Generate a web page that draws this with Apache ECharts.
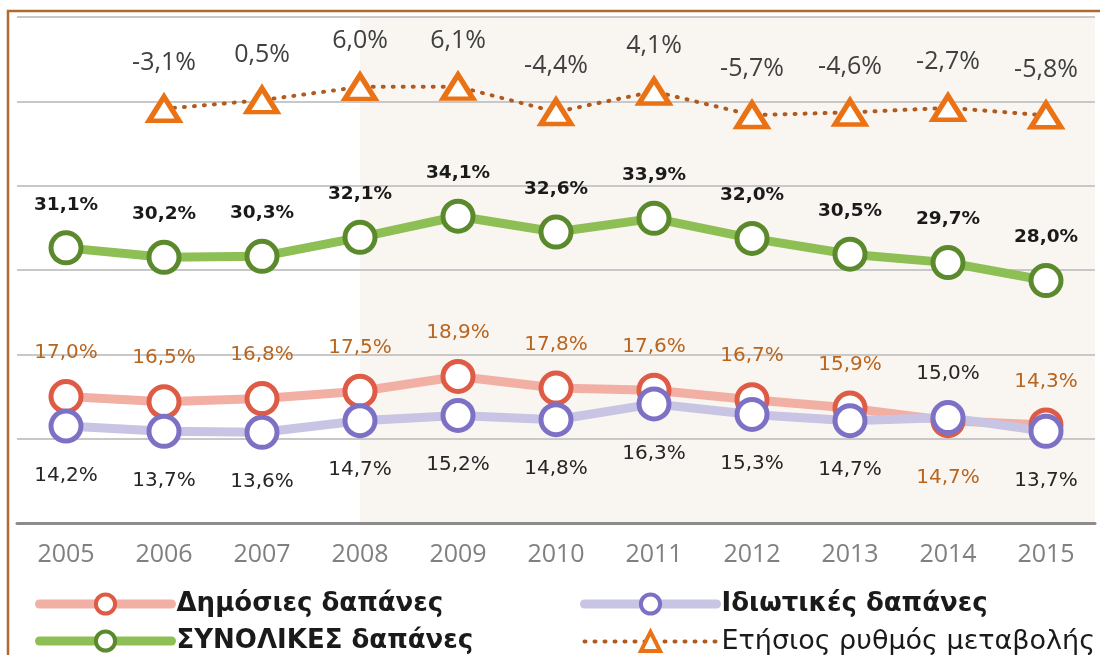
<!DOCTYPE html>
<html>
<head>
<meta charset="utf-8">
<script src="https://cdn.jsdelivr.net/npm/echarts@6/dist/echarts.min.js"></script>
<style>
  html, body { margin: 0; padding: 0; background: #fff; }
  #chart { width: 1100px; height: 655px; }
</style>
</head>
<body>
<div id="chart"></div>
<script>
// data
const years = ['2005', '2006', '2007', '2008', '2009', '2010', '2011', '2012', '2013', '2014', '2015']
const publicSpend = [17.0, 16.5, 16.8, 17.5, 18.9, 17.8, 17.6, 16.7, 15.9, 14.7, 14.3]
const privateSpend = [14.2, 13.7, 13.6, 14.7, 15.2, 14.8, 16.3, 15.3, 14.7, 15.0, 13.7]
const totalSpend = [31.1, 30.2, 30.3, 32.1, 34.1, 32.6, 33.9, 32.0, 30.5, 29.7, 28.0]
const yearlyChange = [null, -3.1, 0.5, 6.0, 6.1, -4.4, 4.1, -5.7, -4.6, -2.7, -5.8]
const names = ['Δημόσιες δαπάνες', 'Ιδιωτικές δαπάνες', 'ΣΥΝΟΛΙΚΕΣ δαπάνες', 'Ετήσιος ρυθμός μεταβολής']
const shadeFrom = '2008'

const fmt = v => v.toFixed(1).replace('.', ',') + '%'

// public label goes under the point where private is higher (2014), and vice versa
const publicData = publicSpend.map((v, i) => {
  if (v < privateSpend[i]) return { value: v, label: { position: 'bottom', distance: 30 } }
  return v
})
const privateData = privateSpend.map((v, i) => {
  if (v > publicSpend[i]) return { value: v, label: { position: 'top', distance: 16, color: '#262626' } }
  return v
})

const chart = echarts.init(document.getElementById('chart'))

const legendBase = {
  top: 591, height: 100, orient: 'vertical', padding: 0,
  itemWidth: 132, itemHeight: 24, itemGap: 11,
  lineStyle: { width: 9, cap: 'round' },
  itemStyle: { borderWidth: 4 },
  textStyle: { fontFamily: 'DejaVu Sans', fontWeight: 'bold', fontSize: 26, lineHeight: 24,
    color: '#1a1a1a' }
}

const option = {
  animation: false,
  backgroundColor: '#fff',
  grid: { left: 17, right: 5, top: 17, bottom: 132 },
  graphic: [{
    type: 'rect',
    z: -10,
    shape: { x: 8, y: 11, width: 1200, height: 800 },
    style: { fill: 'none', stroke: '#b06a30', lineWidth: 2.5 }
  }],
  xAxis: [{
    type: 'category',
    data: years,
    boundaryGap: true,
    z: 3,
    axisLine: { onZero: false, lineStyle: { color: '#8c8c8c', width: 3 } },
    axisTick: { length: 8, lineStyle: { color: '#8c8c8c', width: 2 } },
    axisLabel: { color: '#808080', fontFamily: 'Open Sans', fontSize: 25, margin: 19 }
  }, {
    type: 'value', min: 0, max: years.length, show: false
  }],
  yAxis: [{
    type: 'value', min: 5, max: 53, show: false, splitLine: { show: false }
  }, {
    type: 'value', min: -175, max: 35, interval: 35, z: 1,
    axisLabel: { show: false }, axisLine: { show: false }, axisTick: { show: false },
    splitLine: { show: true, lineStyle: { color: '#c8c8c8', width: 2 } }
  }],
  legend: [
    Object.assign({}, legendBase, {
      left: 35,
      data: [{ name: names[0] }, { name: names[2] }]
    }),
    Object.assign({}, legendBase, {
      left: 580,
      data: [
        { name: names[1] },
        { name: names[3], lineStyle: { width: 4, type: [1, 9], cap: 'round' },
          textStyle: { fontFamily: 'DejaVu Sans', fontWeight: 'normal', fontSize: 27, lineHeight: 24, color: '#1a1a1a' } }
      ]
    })
  ],
  series: [
    {
      // shaded background from 2008 on
      type: 'line', xAxisIndex: 1, yAxisIndex: 1, z: 0, data: [],
      markArea: {
        silent: true, z: 0,
        itemStyle: { color: '#f9f5f1' },
        data: [[{ xAxis: years.indexOf(shadeFrom) + 0.5 }, { xAxis: years.length }]]
      }
    },
    {
      name: names[0], type: 'line', data: publicData,
      symbol: 'circle', symbolSize: 30,
      lineStyle: { color: '#f2b0a5', width: 9 },
      itemStyle: { color: '#fff', borderColor: '#de5b45', borderWidth: 5 },
      label: { show: true, position: 'top', distance: 16, formatter: p => fmt(p.value),
        color: '#b8651f', fontFamily: 'DejaVu Sans', fontSize: 20 }
    },
    {
      name: names[1], type: 'line', data: privateData,
      symbol: 'circle', symbolSize: 30,
      lineStyle: { color: '#c7c4e4', width: 9 },
      itemStyle: { color: '#fff', borderColor: '#7d71c6', borderWidth: 5 },
      label: { show: true, position: 'bottom', distance: 22, formatter: p => fmt(p.value),
        color: '#262626', fontFamily: 'DejaVu Sans', fontSize: 20 }
    },
    {
      name: names[2], type: 'line', data: totalSpend,
      symbol: 'circle', symbolSize: 30,
      lineStyle: { color: '#8dbf55', width: 9 },
      itemStyle: { color: '#fff', borderColor: '#5b8a2d', borderWidth: 5 },
      label: { show: true, position: 'top', distance: 16, formatter: p => fmt(p.value),
        color: '#1a1a1a', fontFamily: 'DejaVu Sans', fontWeight: 'bold', fontSize: 18.5 }
    },
    {
      name: names[3], type: 'line', yAxisIndex: 1, data: yearlyChange,
      symbol: 'triangle', symbolSize: [30, 24],
      lineStyle: { color: '#b05a1e', width: 4, type: [1, 9], cap: 'round' },
      itemStyle: { color: '#fff', borderColor: '#ea7214', borderWidth: 5 },
      label: { show: true, position: 'top', distance: 19, formatter: p => fmt(p.value),
        color: '#404040', fontFamily: 'Open Sans', fontSize: 25 }
    }
  ]
}

chart.setOption(option)
</script>
</body>
</html>
